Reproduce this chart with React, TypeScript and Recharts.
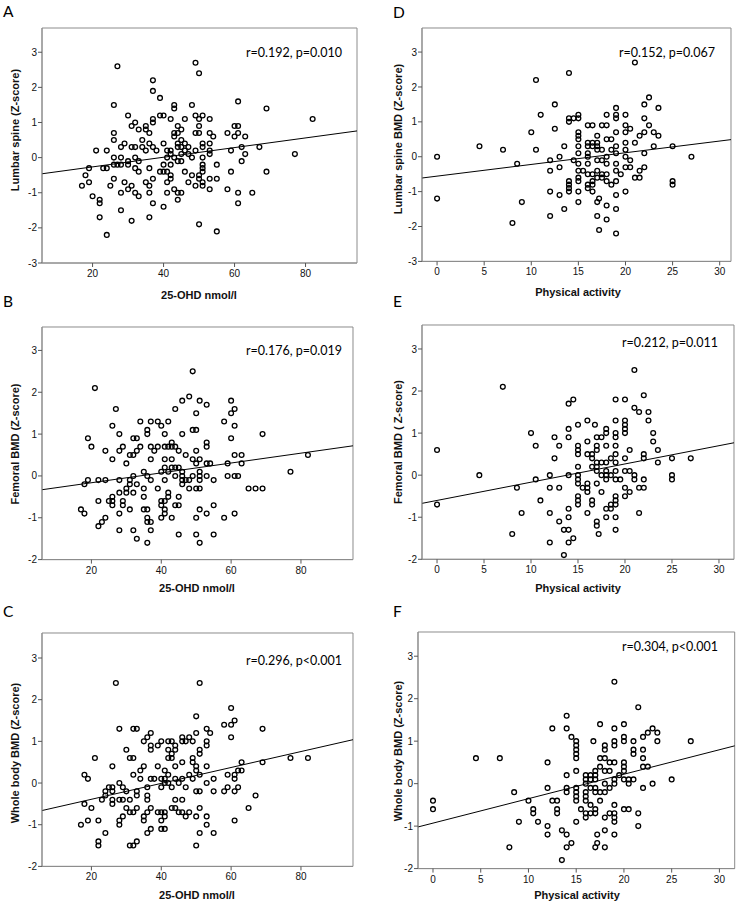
import React from 'react'
import { ScatterChart, Scatter, XAxis, YAxis, ReferenceLine, ReferenceArea } from 'recharts'

type Pt = [number, number]

// 25-OHD (nmol/l) vs Z-score
const lumbarOhd: Pt[] = [
  [17,-0.8],[18,-0.5],[19,-0.3],[19,-0.7],[20,-1.1],[21,0.2],[22,-1.2],[22,-1.3],[22,-1.7],[23,-0.3],
  [24,0.2],[24,-0.3],[24,-2.2],[25,-0.8],[26,1.5],[26,0.7],[26,0.5],[26,0],[26,-0.2],[26,-0.6],
  [27,2.6],[27,-0.2],[28,0.3],[28,0],[28,-0.2],[28,-1.0],[28,-1.5],[29,0.4],[29,-0.7],[30,1.2],
  [30,-0.1],[30,-0.2],[30,-0.9],[31,0.9],[31,0.3],[31,-0.8],[31,-1.8],[32,1.0],[32,0.3],[32,0],
  [32,-0.3],[32,-1.0],[33,0.8],[33,-0.1],[33,-0.4],[33,-1.1],[34,0.5],[34,0.3],[35,0.9],[35,0.8],
  [35,0.2],[35,-0.7],[36,0.7],[36,0.4],[36,-0.3],[36,-0.8],[36,-1.0],[36,-1.7],[37,2.2],[37,1.9],
  [37,1.1],[37,1.0],[37,0.3],[37,-0.6],[37,-1.3],[38,0.2],[39,1.7],[39,1.2],[39,-0.4],[40,1.2],
  [40,0.4],[40,-0.2],[40,-0.4],[40,-1.4],[41,0.2],[41,0],[41,-0.4],[41,-0.7],[41,-1.0],[42,1.1],
  [42,0.2],[42,0.1],[42,-0.2],[42,-0.5],[42,-0.6],[43,0],[43,-0.9],[43,1.5],[43,1.4],[43,0.7],
  [43,0.6],[44,0.9],[44,0.7],[44,0.4],[44,0.3],[44,-0.1],[44,-1.0],[44,-1.2],[45,0.8],[45,0.5],
  [45,0.3],[45,0.1],[45,-0.1],[45,-1.0],[46,1.1],[46,0.4],[46,0.2],[46,-0.4],[47,0.3],[47,0.1],
  [47,-0.7],[48,1.5],[48,0],[48,-0.5],[49,2.7],[49,1.2],[49,0.7],[49,0.2],[49,-0.8],[50,2.4],
  [50,1.1],[50,0.9],[50,0.7],[50,-0.5],[50,-0.6],[50,-1.9],[51,1.2],[51,0.4],[51,0.3],[51,0],
  [51,-0.2],[51,-0.3],[51,-0.4],[51,-0.7],[51,-0.8],[53,1.1],[53,0.7],[53,0.4],[53,0.2],[53,0.1],
  [53,-0.6],[53,-0.9],[54,0.6],[55,-0.2],[55,-0.6],[55,-2.1],[58,0.7],[58,-0.9],[59,0.2],[59,-0.4],
  [60,0.9],[60,0.6],[61,1.6],[61,0.9],[61,0.7],[61,-1.0],[61,-1.3],[62,0.3],[62,-0.1],[63,0.6],
  [63,0.1],[65,-1.0],[67,0.3],[69,1.4],[69,-0.4],[77,0.1],[82,1.1],
]

const femoralOhd: Pt[] = [
  [17,-0.8],[18,-0.2],[18,-0.9],[19,0.9],[19,-0.1],[20,0.7],[21,2.1],[22,-0.1],[22,-0.6],[22,-1.2],
  [23,-1.1],[24,0.6],[24,-0.1],[24,-1.0],[25,-0.6],[26,0.4],[26,1.2],[26,-0.5],[26,-0.6],[26,-0.7],
  [27,1.6],[28,1.0],[28,0.6],[28,-0.1],[28,-0.4],[28,-0.9],[28,-1.3],[29,0.7],[29,-0.6],[29,-0.7],
  [30,0.3],[30,-0.3],[30,-0.4],[31,0.5],[31,-0.1],[31,-0.2],[31,-0.8],[32,0.9],[32,0.5],[32,0],
  [32,-0.4],[32,-1.3],[33,0.9],[33,0.6],[33,-0.2],[33,-1.5],[34,1.3],[34,0.7],[35,0.1],[35,-0.3],
  [35,-0.5],[35,-0.8],[36,1.1],[36,1.0],[36,0],[36,-0.8],[36,-1.0],[36,-1.1],[36,-1.6],[37,1.3],
  [37,0.7],[37,0.4],[37,-0.1],[37,-1.1],[37,-1.3],[38,0.6],[39,1.3],[39,0.7],[39,-0.3],[40,1.2],
  [40,0.1],[40,-0.6],[40,-0.7],[40,-1.0],[41,1.0],[41,0.7],[41,0.4],[41,0.2],[41,-0.1],[41,-0.6],
  [41,-0.8],[41,-0.9],[42,1.3],[42,0.7],[42,0.1],[42,-0.4],[42,-0.5],[43,0.8],[43,0.7],[43,0.4],
  [43,0.2],[43,-1.0],[44,1.6],[44,0.7],[44,0.2],[44,0],[44,-0.7],[45,0.6],[45,0.2],[45,-0.5],
  [45,-0.7],[45,-1.4],[46,1.8],[46,1.0],[46,0.1],[46,0],[46,-0.1],[46,-0.2],[47,0.5],[47,-0.1],
  [48,1.9],[48,-0.3],[48,-0.1],[49,2.5],[49,1.1],[49,0.4],[49,0],[50,1.5],[50,1.1],[50,0.6],
  [50,0.3],[50,-0.3],[50,-1.0],[50,-1.4],[51,1.8],[51,0.4],[51,0.1],[51,0],[51,-0.1],[51,-0.3],
  [51,-0.8],[51,-1.6],[53,1.7],[53,0.8],[53,0.7],[53,0.3],[53,0],[53,-0.9],[54,0.3],[55,-0.1],
  [55,-0.7],[55,-1.4],[58,1.3],[58,-1.0],[59,0.3],[59,0],[60,1.8],[60,1.5],[60,0.9],[61,1.6],
  [61,1.2],[61,0.5],[61,0],[61,-0.9],[62,0],[63,0.5],[63,0.3],[65,-0.3],[67,-0.3],[69,-0.3],
  [69,1.0],[77,0.1],[82,0.5],
]

const wholeOhd: Pt[] = [
  [17,-1.0],[18,0.2],[18,-0.5],[19,0.1],[19,-0.9],[20,-0.6],[21,0.6],[22,-0.9],[22,-1.4],[22,-1.5],
  [23,-0.4],[24,-0.2],[24,-0.3],[24,-1.2],[25,-0.1],[26,0.4],[26,-0.1],[26,-0.2],[26,-0.4],[26,-0.5],
  [27,2.4],[28,1.3],[28,0],[28,-0.4],[28,-0.9],[28,-1.0],[29,-0.1],[29,-0.4],[29,-0.8],[30,0.8],
  [30,-0.2],[30,-0.6],[31,0.6],[31,-0.4],[31,-0.7],[31,-1.5],[32,1.3],[32,0.6],[32,0.2],[32,-0.7],
  [32,-1.5],[33,1.3],[33,-0.2],[33,-0.3],[33,-0.6],[33,-1.4],[34,0.3],[34,0.1],[35,1.0],[35,0.4],
  [35,-0.8],[35,-0.9],[36,1.1],[36,-0.1],[36,-0.3],[36,-0.4],[36,-0.7],[36,-1.2],[37,1.2],[37,0.9],
  [37,0.8],[37,0.1],[37,-0.6],[37,-1.1],[38,0.1],[39,0.4],[39,0.9],[39,-0.7],[40,1.0],[40,0.1],
  [40,-0.1],[40,-0.7],[40,-0.9],[40,-1.1],[41,0.3],[41,0.1],[41,0],[41,-0.7],[41,-0.8],[41,-1.1],
  [42,1.0],[42,0.8],[42,0.6],[42,0.2],[42,0],[43,1.0],[43,0.7],[43,0.6],[43,-0.1],[43,-0.6],
  [44,0.9],[44,0.8],[44,0.4],[44,0.1],[44,-0.4],[44,-0.6],[45,0],[45,-0.7],[46,1.1],[46,1.0],
  [46,0.5],[46,0.1],[46,-0.4],[46,-0.7],[47,1.0],[47,-0.1],[47,-0.8],[48,1.1],[48,0.2],[48,-0.7],
  [49,1.0],[49,0.6],[49,0.5],[49,0.1],[50,1.6],[50,1.2],[50,0.4],[50,0.3],[50,-0.2],[50,-0.8],
  [50,-1.5],[51,2.4],[51,0.8],[51,0.7],[51,0.2],[51,-0.2],[51,-0.6],[51,-1.2],[53,1.3],[53,1.0],
  [53,0.9],[53,0.4],[53,0],[53,-0.8],[53,-1.0],[54,1.2],[55,0.1],[55,-0.2],[55,-1.2],[58,1.4],
  [58,-0.2],[59,0.2],[59,-0.1],[60,1.8],[60,1.4],[60,1.1],[61,1.5],[61,0.2],[61,0.1],[61,-0.2],
  [61,-0.9],[62,0.3],[62,-0.1],[63,0.5],[63,0.3],[65,-0.6],[67,-0.3],[69,1.3],[69,0.5],[77,0.6],
  [82,0.6],
]

// Physical activity vs Z-score
const lumbarPa: Pt[] = [
  [0,0],[0,-1.2],[4.5,0.3],[7,0.2],[8,-1.9],[8.5,-0.2],[9,-1.3],[10,0.7],[10.5,2.2],[10.5,0.2],
  [11,1.2],[12,-0.1],[12,-0.4],[12,-1.0],[12,-1.7],[12.5,1.5],[12.5,0.8],[13,0],[13,-0.3],[13,-1.1],
  [13.5,0.3],[13.5,-1.5],[14,2.4],[14,1.1],[14,1.0],[14,-0.7],[14,-0.8],[14,-0.9],[14,-1.0],[14.5,-0.1],
  [14.5,1.1],[15,1.2],[15,1.1],[15,0.7],[15,0.6],[15,0.5],[15,0.3],[15,0.1],[15,-0.2],[15,-0.4],
  [15,-0.6],[15,-0.7],[15,-1.0],[15,-1.3],[15.5,-0.4],[16,0.9],[16,0.4],[16,0.3],[16,0.1],[16,0],
  [16,-0.2],[16,-0.5],[16,-0.8],[16,-0.9],[16.5,0.9],[16.5,0.4],[16.5,0.3],[16.5,-0.5],[16.5,-0.7],[16.5,-0.8],
  [16.5,-1.0],[17,0.4],[17,0.6],[17,0.3],[17,0.2],[17,-0.1],[17,-0.4],[17,-0.6],[17,-1.3],[17,-1.7],
  [17.2,-1.2],[17.2,-2.1],[17.5,0.9],[17.5,0.2],[17.5,-0.1],[17.5,-0.5],[17.5,-0.6],[18,1.2],[18,0.9],[18,0.5],
  [18,0],[18,-0.2],[18,-0.5],[18,-0.7],[18,-1.4],[18,-1.8],[18.5,0.5],[18.5,0.2],[18.5,-0.8],[19,1.4],
  [19,1.2],[19,1.1],[19,0.7],[19,0.3],[19,0.1],[19,-0.2],[19,-0.4],[19,-0.7],[19,-1.1],[19,-1.5],
  [19,-2.2],[19.5,-0.5],[20,1.2],[20,0.9],[20,0.7],[20,0.4],[20,0.2],[20,0],[20,-0.3],[20,-1.0],
  [20.5,0.8],[20.5,-0.1],[20.5,-0.3],[21,0.4],[21,-0.6],[21,2.7],[21.5,0.6],[21.5,-0.4],[21.5,-0.6],[22,1.5],
  [22,1.1],[22,0.7],[22,0.1],[22,-0.3],[22.5,1.7],[22.5,0.9],[23,0.7],[23,0.3],[23.5,0.6],[23.5,1.4],
  [25,0.3],[25,-0.7],[25,-0.8],[27,0],
]

const femoralPa: Pt[] = [
  [0,0.6],[0,-0.7],[4.5,0],[7,2.1],[8,-1.4],[8.5,-0.3],[9,-0.9],[10,1.0],[10.5,0.7],[10.5,-0.1],
  [11,-0.6],[12,0],[12,-0.3],[12,-0.9],[12,-1.6],[12.5,0.4],[12.5,0.9],[13,0.7],[13,-0.3],[13,-1.1],
  [13.5,-1.3],[13.5,-1.9],[14,1.7],[14,1.1],[14,0.9],[14,0],[14,-0.8],[14,-1.0],[14,-1.3],[14,-1.6],
  [14.5,1.8],[14.5,-1.5],[15,1.2],[15,0.7],[15,0.6],[15,0.5],[15,0.2],[15,0],[15,-0.1],[15,-0.2],
  [15,-0.5],[15,-0.6],[15,-0.7],[15.5,-0.3],[16,1.3],[16,0.8],[16,0.5],[16,-0.2],[16,-0.3],[16,-0.4],
  [16,-0.9],[16.5,0.5],[16.5,0.4],[16.5,0.2],[16.5,-0.6],[16.5,-0.7],[16.8,1.2],[17,0.9],[17,0.7],[17,0.6],
  [17,0.3],[17,0.2],[17,0.1],[17,-0.2],[17,-1.1],[17,-1.2],[17.2,-1.4],[17.5,0.9],[17.5,0.3],[17.5,0],
  [17.5,-0.4],[18,1.1],[18,1.0],[18,0.7],[18,0.3],[18,0.1],[18,0],[18,-0.1],[18,-0.8],[18,-1.0],
  [18.5,0],[18.5,0.4],[18.5,-0.8],[18.5,-0.7],[19,1.8],[19,1.3],[19,1.0],[19,0.9],[19,0.7],[19,0.5],
  [19,0.3],[19,0.1],[19,-0.1],[19,-0.5],[19,-0.6],[19,-0.7],[19,-1.0],[19,-1.3],[19.5,-0.1],[20,1.8],
  [20,1.3],[20,1.2],[20,1.1],[20,1.0],[20,0.4],[20,0.1],[20,-0.3],[20,-0.5],[20.5,0.6],[20.5,0.1],
  [20.5,-0.4],[21,1.6],[21,0],[21,-0.1],[21.5,1.5],[21.5,-0.3],[21.5,-0.9],[22,1.9],[22,0.5],[22,0.4],
  [22,-0.1],[22,-0.3],[22.5,1.5],[22.5,1.3],[23,1.0],[23,0.8],[23.5,0.6],[23.5,0.3],[25,0.4],[25,0],
  [25,-0.1],[27,0.4],[21,2.5],
]

const wholePa: Pt[] = [
  [0,-0.4],[0,-0.6],[4.5,0.6],[7,0.6],[8,-1.5],[8.5,-0.2],[9,-0.9],[10,-0.4],[10.5,-0.6],[10.5,-0.7],
  [11,-0.9],[12,0.5],[12,-0.1],[12,-1.0],[12,-1.2],[12.5,1.3],[12.5,-0.4],[13,-0.4],[13,-0.6],[13,-0.7],
  [13.5,-1.1],[13.5,-1.8],[14,1.6],[14,1.3],[14,0.2],[14,-0.1],[14,-0.2],[14,-1.2],[14,-1.5],[14.5,1.1],
  [14.5,-1.4],[15,1.0],[15,0.9],[15,0.8],[15,0.7],[15,0.6],[15,0.3],[15,-0.1],[15,-0.2],[15,-0.3],
  [15,-0.4],[15,-0.9],[15.5,-0.6],[16,0.2],[16,0.1],[16,0],[16,-0.2],[16,-0.3],[16,-0.4],[16,-0.7],
  [16,-0.8],[16.5,0.2],[16.5,0.1],[16.5,-0.1],[16.5,-0.5],[16.5,-0.7],[16.8,1.0],[17,0.3],[17,0.2],[17,0.1],
  [17,-0.1],[17,-0.2],[17,-0.6],[17,-0.7],[17,-1.5],[17.2,-1.2],[17.2,-1.4],[17.5,1.4],[17.5,0.6],[17.5,0.4],
  [17.5,-0.2],[17.5,-0.4],[18,0.9],[18,0.8],[18,0.6],[18,0.3],[18,0],[18,-0.2],[18,-0.8],[18,-1.1],
  [18,-1.5],[18.5,0.5],[18.5,0.3],[18.5,-0.1],[18.5,-0.7],[19,2.4],[19,1.3],[19,1.0],[19,0.9],[19,0.5],
  [19,0.1],[19,0],[19,-0.5],[19,-0.7],[19,-0.8],[19,-0.9],[19,-1.2],[19.5,0.2],[20,1.4],[20,1.1],
  [20,1.0],[20,0.5],[20,0.4],[20,0.3],[20,0.1],[20,-0.6],[20.5,0.1],[20.5,0],[20.5,-0.6],[21,1.0],
  [21,0.8],[21,0.7],[21,0.1],[21.5,1.8],[21.5,-0.7],[21.5,-1.0],[22,1.1],[22,0.8],[22,0.6],[22,0.4],
  [22,-0.1],[22.5,1.2],[22.5,0.4],[23,1.3],[23,0],[23.5,1.2],[23.5,1.0],[25,0.1],[27,1.0],
]

// fit line end points, read at the plot edges
const fitA: Pt[] = [[5.75,-0.46],[94.5,0.76]]
const fitB: Pt[] = [[5.85,-0.33],[94.9,0.72]]
const fitC: Pt[] = [[5.85,-0.66],[94.9,1.04]]
const fitD: Pt[] = [[-1.6,-0.61],[31.2,0.49]]
const fitE: Pt[] = [[-1.6,-0.67],[31.6,0.77]]
const fitF: Pt[] = [[-1.57,-1.02],[31.6,0.89]]

const ohdTicks = [20, 40, 60, 80]
const paTicks = [0, 5, 10, 15, 20, 25, 30]
const zTicks3 = [-3, -2, -1, 0, 1, 2, 3]
const zTicks2 = [-2, -1, 0, 1, 2, 3]

const stats = ['r=0.192, p=0.010', 'r=0.176, p=0.019', 'r=0.296, p<0.001', 'r=0.152, p=0.067', 'r=0.212, p=0.011', 'r=0.304, p<0.001']
const yTitles = ['Lumbar spine (Z-score)', 'Femoral BMD (Z-score)', 'Whole body BMD (Z-score)', 'Lumbar spine BMD (Z-score)', 'Femoral BMD ( Z-score)', 'Whole body BMD (Z-score)']
const xTitles = ['25-OHD nmol/l', '25-OHD nmol/l', '25-OHD nmol/l', 'Physical activity', 'Physical activity', 'Physical activity']
const letters = ['A', 'B', 'C', 'D', 'E', 'F']

const panels = [
  { pts: lumbarOhd, fit: fitA, xd: [5.75, 94.5], yd: [-3, 3.69], xt: ohdTicks, yt: zTicks3, box: [41.7, 28.3, 356.7, 263.3], letter: [3, 17], stat: [342, 52], yT: [15, 130], xT: [199, 295] },
  { pts: femoralOhd, fit: fitB, xd: [5.85, 94.9], yd: [-2, 3.56], xt: ohdTicks, yt: zTicks2, box: [41.7, 326.7, 352.7, 559.3], letter: [3, 307], stat: [342, 350], yT: [15, 444], xT: [197, 588] },
  { pts: wholeOhd, fit: fitC, xd: [5.85, 94.9], yd: [-2, 3.6], xt: ohdTicks, yt: zTicks2, box: [41.7, 633.3, 352.7, 866.7], letter: [3, 617], stat: [342, 660], yT: [15, 753], xT: [197, 895] },
  { pts: lumbarPa, fit: fitD, xd: [-1.6, 31.2], yd: [-3, 3.69], xt: paTicks, yt: zTicks3, box: [421.7, 28.3, 730.7, 261.7], letter: [393, 18], stat: [715, 52], yT: [398, 139], xT: [578, 292] },
  { pts: femoralPa, fit: fitE, xd: [-1.6, 31.6], yd: [-2, 3.57], xt: paTicks, yt: zTicks2, box: [421.7, 325, 733.7, 559.3], letter: [393, 307], stat: [718, 342], yT: [398, 442], xT: [578, 588] },
  { pts: wholePa, fit: fitF, xd: [-1.57, 31.6], yd: [-2, 3.57], xt: paTicks, yt: zTicks2, box: [418.3, 631.7, 735, 868.3], letter: [393, 617], stat: [718, 646], yT: [398, 751], xT: [577, 895] },
]

const AXIS = '#8c8c8c'
const tickStyle = { fontSize: 10, fill: '#111', fontFamily: '"Liberation Sans", Arial, sans-serif' }

const Ring = (props: any) => (
  <circle cx={props.cx} cy={props.cy} r={2.4} fill="none" stroke="#000" strokeWidth={1.3} />
)

function Panel({ p }: { p: (typeof panels)[number] }) {
  const [l, t, r, b] = p.box
  const w = r - l + 46
  const h = b - t + 55
  const data = p.pts.map(([x, y]) => ({ x, y }))
  return (
    <div style={{ position: 'absolute', left: l - 42, top: t - 10 }}>
      <ScatterChart width={w} height={h} margin={{ top: 10, right: 4, left: 0, bottom: 0 }}>
        <XAxis
          type="number"
          dataKey="x"
          domain={p.xd}
          ticks={p.xt}
          allowDataOverflow
          height={45}
          tick={tickStyle}
          tickSize={4}
          tickMargin={3}
          axisLine={{ stroke: AXIS }}
          tickLine={{ stroke: '#555' }}
        />
        <YAxis
          type="number"
          dataKey="y"
          domain={p.yd}
          ticks={p.yt}
          allowDataOverflow
          width={42}
          tick={tickStyle}
          tickSize={4}
          tickMargin={1}
          axisLine={{ stroke: AXIS }}
          tickLine={{ stroke: '#555' }}
        />
        <ReferenceArea x1={p.xd[0]} x2={p.xd[1]} y1={p.yd[0]} y2={p.yd[1]} fill="none" stroke={AXIS} strokeWidth={1} ifOverflow="visible" />
        <ReferenceLine
          segment={[{ x: p.fit[0][0], y: p.fit[0][1] }, { x: p.fit[1][0], y: p.fit[1][1] }]}
          stroke="#000"
          strokeWidth={1}
          ifOverflow="visible"
        />
        <Scatter data={data} shape={Ring} isAnimationActive={false} />
      </ScatterChart>
    </div>
  )
}

export default function App() {
  return (
    <div style={{ position: 'absolute', left: 0, top: 0, width: 739, height: 907, background: '#fff' }}>
      {panels.map((p, i) => (
        <Panel key={i} p={p} />
      ))}
      <svg width={739} height={907} style={{ position: 'absolute', left: 0, top: 0, pointerEvents: 'none' }}>
        {panels.map((p, i) => (
          <g key={i}>
            <text x={p.letter[0]} y={p.letter[1]} fontFamily="Lato, 'Open Sans', sans-serif" fontSize={15.5} fill="#000">
              {letters[i]}
            </text>
            <text x={p.stat[0]} y={p.stat[1]} textAnchor="end" dominantBaseline="central" fontFamily="Lato, 'Open Sans', sans-serif" fontSize={12.5} fill="#000">
              {stats[i]}
            </text>
            <text
              x={p.yT[0]}
              y={p.yT[1]}
              transform={`rotate(-90 ${p.yT[0]} ${p.yT[1]})`}
              textAnchor="middle"
              dominantBaseline="central"
              fontFamily='"Liberation Sans", Arial, sans-serif'
              fontSize={11}
              fontWeight="bold"
              fill="#111"
            >
              {yTitles[i]}
            </text>
            <text
              x={p.xT[0]}
              y={p.xT[1]}
              textAnchor="middle"
              dominantBaseline="central"
              fontFamily='"Liberation Sans", Arial, sans-serif'
              fontSize={11}
              fontWeight="bold"
              fill="#111"
            >
              {xTitles[i]}
            </text>
          </g>
        ))}
      </svg>
    </div>
  )
}
